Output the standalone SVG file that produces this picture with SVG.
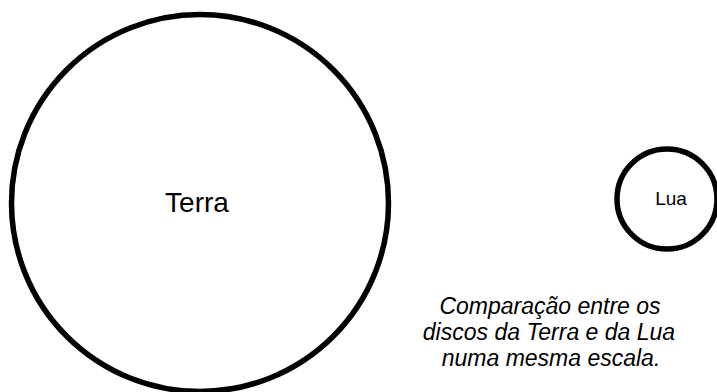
<svg xmlns="http://www.w3.org/2000/svg" width="717" height="392" viewBox="0 0 717 392">
<style>
.disc{fill:#fff;stroke:#000;stroke-width:5.5}
.lbl{font-family:"Liberation Sans",Arial,sans-serif;fill:#000;text-anchor:middle}
.cap{font-family:"Liberation Sans",Arial,sans-serif;font-style:italic;font-size:23px;fill:#000;text-anchor:middle}
</style>
<rect width="717" height="392" fill="#fff"/>
<g id="terra">
<circle class="disc" cx="200" cy="203" r="188.5"/>
<text class="lbl" x="197" y="211.5" font-size="28">Terra</text>
</g>
<g id="lua">
<circle class="disc" cx="667" cy="199" r="50"/>
<text class="lbl" x="671" y="205" font-size="19">Lua</text>
</g>
<g id="caption">
<text class="cap" x="550" y="314">Comparação entre os</text>
<text class="cap" x="549" y="340">discos da Terra e da Lua</text>
<text class="cap" x="551" y="366">numa mesma escala.</text>
</g>
</svg>
